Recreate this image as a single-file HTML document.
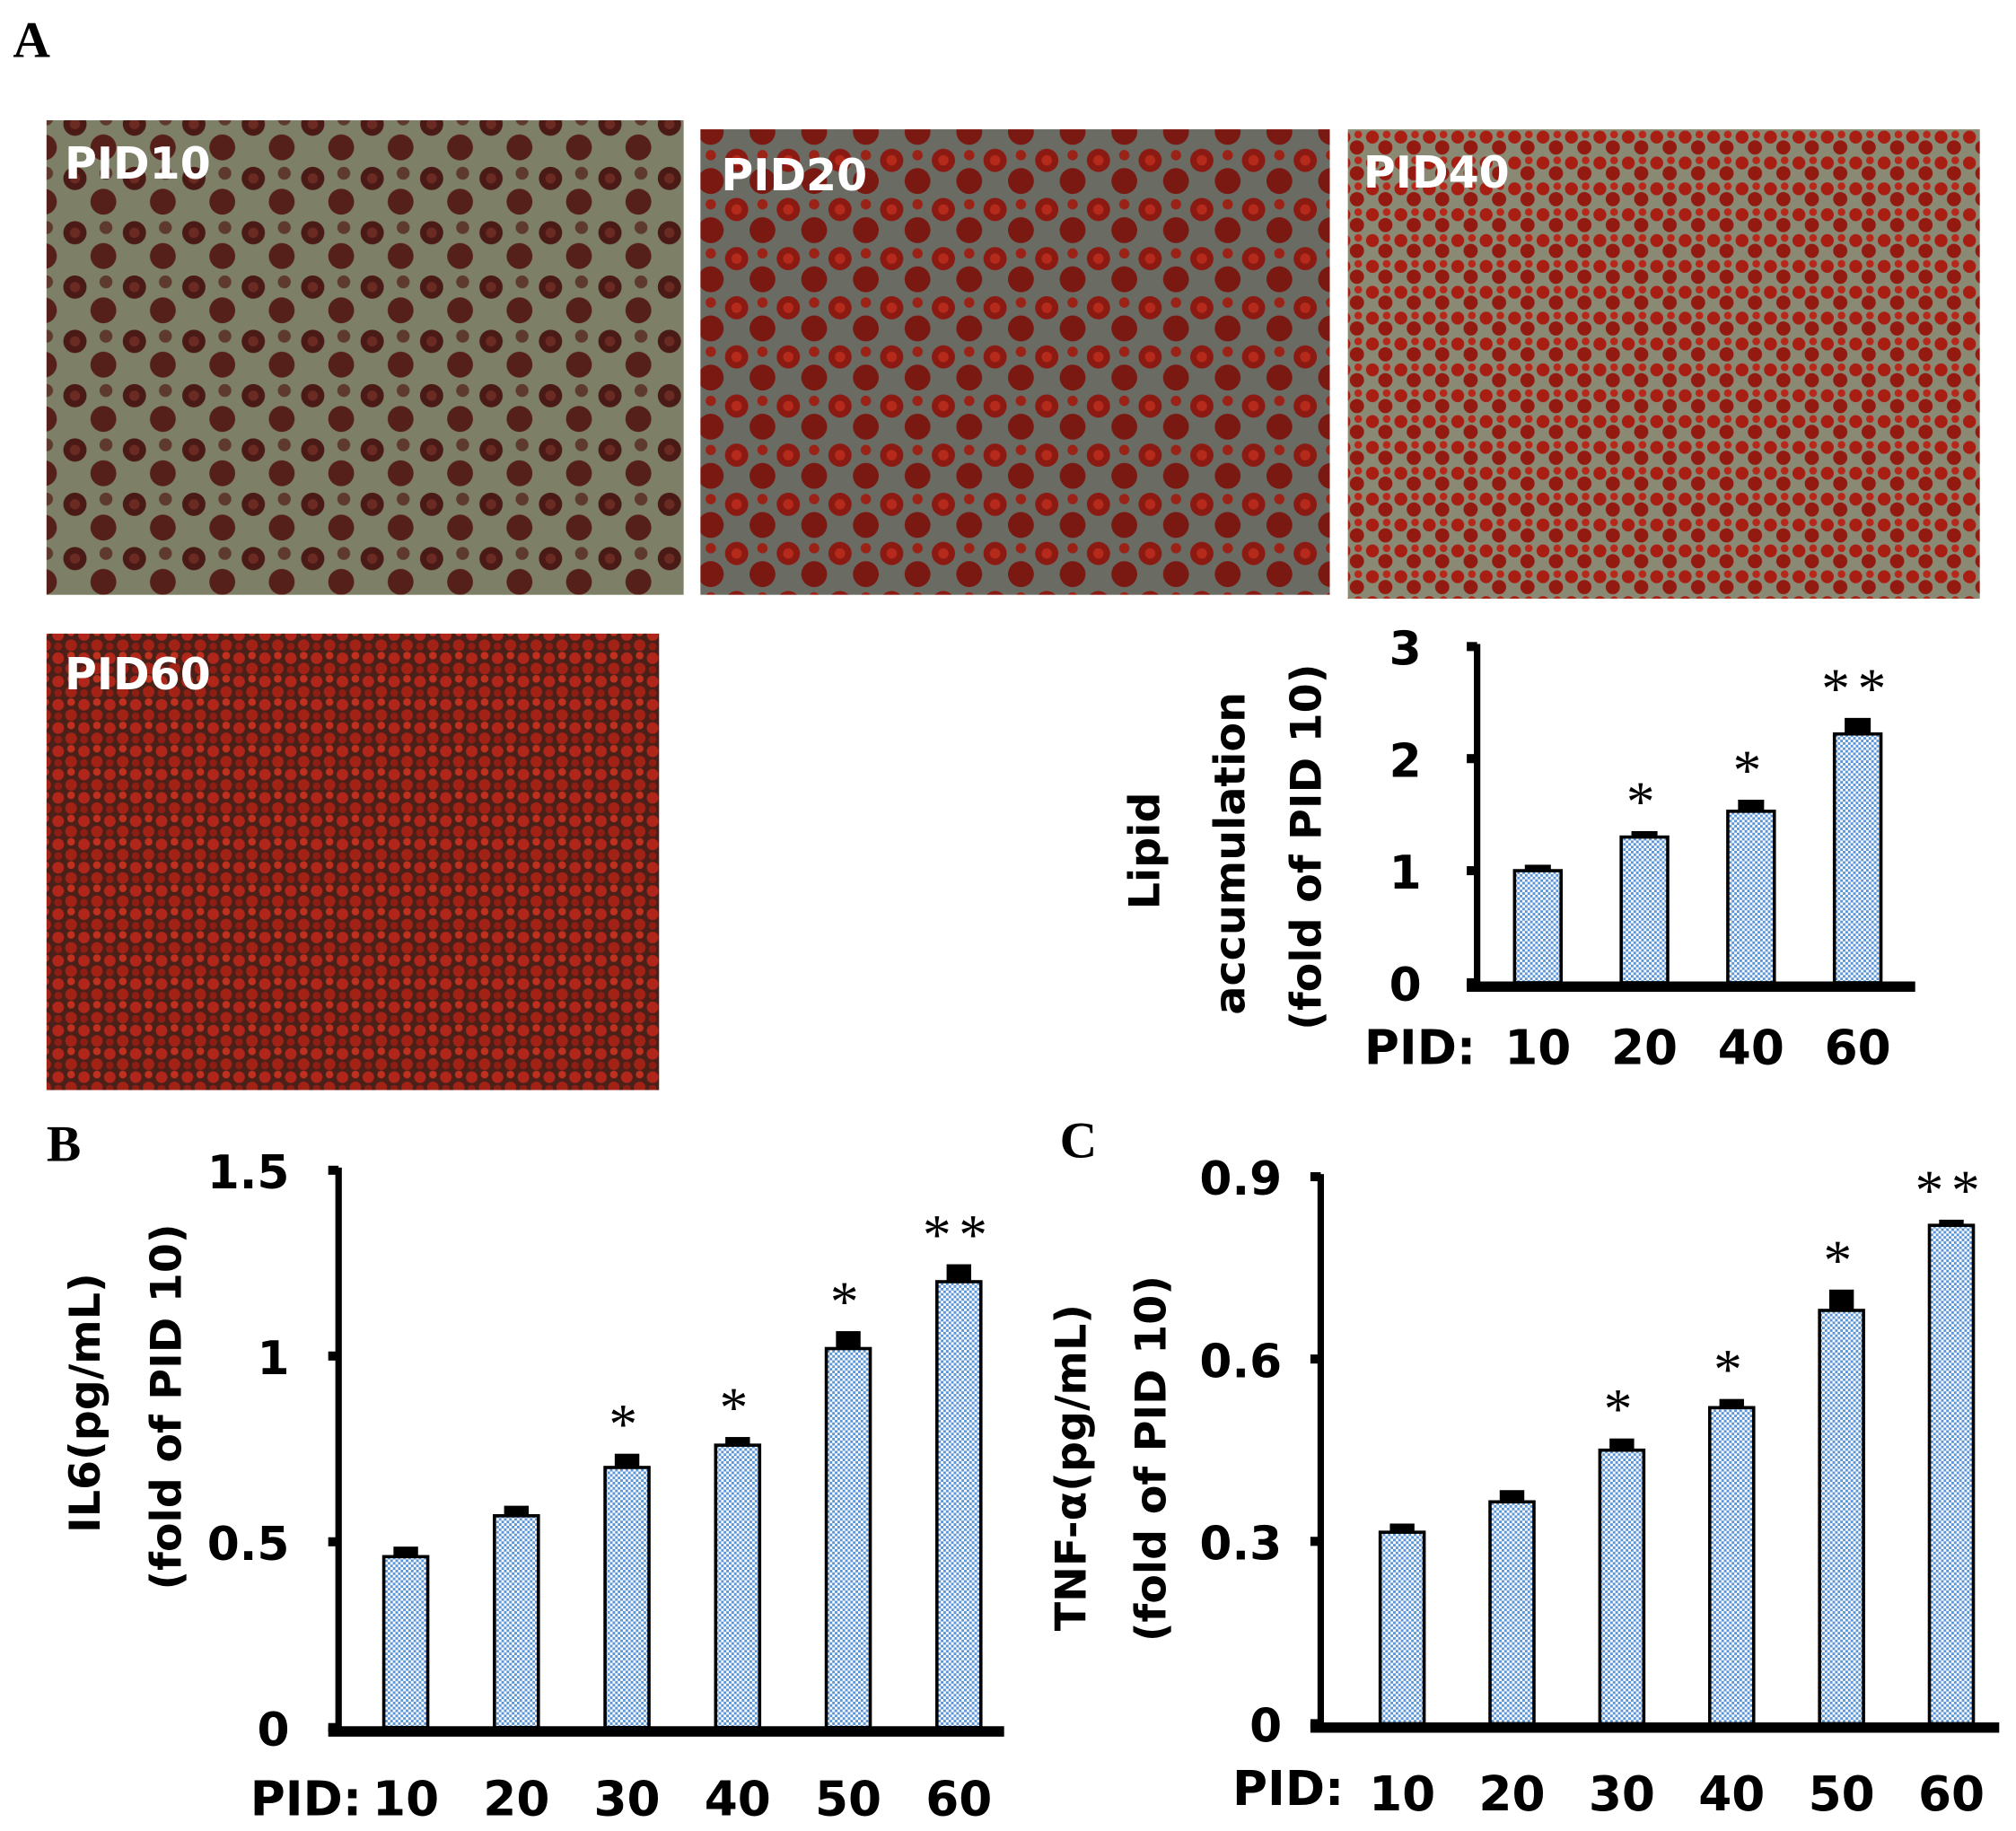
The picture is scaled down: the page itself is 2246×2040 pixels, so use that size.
<!DOCTYPE html>
<html><head><meta charset="utf-8"><style>
html,body{margin:0;padding:0;background:#fff;}
svg{display:block;}
text{font-family:"DejaVu Sans","Liberation Sans",sans-serif;font-weight:bold;fill:#000;}
.serif{font-family:"Liberation Serif",serif;}
</style></head><body>
<svg id="fig" width="2246" height="2040" viewBox="0 0 1560 1416" preserveAspectRatio="none" xmlns="http://www.w3.org/2000/svg">
<defs>
<pattern id="check" width="4" height="4" patternUnits="userSpaceOnUse">
<rect width="4" height="4" fill="#ffffff"/><rect width="2" height="2" fill="#5b95d6"/><rect x="2" y="2" width="2" height="2" fill="#5b95d6"/>
</pattern>
<pattern id="p10" width="46" height="42" patternUnits="userSpaceOnUse">
<rect width="46" height="42" fill="#7d7f66"/>
<circle cx="12" cy="12" r="9" fill="#4a1a16"/><circle cx="12" cy="12" r="4" fill="#6b2a22"/>
<circle cx="34" cy="30" r="10" fill="#55201a"/><circle cx="36" cy="8" r="5" fill="#5e3a2e"/>
</pattern>
<pattern id="p20" width="40" height="38" patternUnits="userSpaceOnUse">
<rect width="40" height="38" fill="#6a6c64"/>
<circle cx="10" cy="10" r="9" fill="#8a1a12"/><circle cx="10" cy="10" r="4" fill="#b52a1a"/>
<circle cx="30" cy="26" r="10" fill="#7a1812"/><circle cx="30" cy="6" r="4" fill="#9a2216"/>
</pattern>
<pattern id="p40" width="22" height="20" patternUnits="userSpaceOnUse">
<rect width="22" height="20" fill="#8a8a74"/>
<circle cx="6" cy="6" r="5" fill="#a81e12"/><circle cx="16" cy="14" r="5.5" fill="#931a10"/><circle cx="17" cy="4" r="3" fill="#b8281a"/>
</pattern>
<pattern id="p60" width="20" height="18" patternUnits="userSpaceOnUse">
<rect width="20" height="18" fill="#4a2018"/>
<circle cx="5" cy="5" r="4.5" fill="#b0261a"/><circle cx="15" cy="13" r="4.5" fill="#a22216"/><circle cx="15" cy="3" r="3" fill="#c0301e"/><circle cx="5" cy="14" r="3" fill="#8e1e14"/>
</pattern>
</defs>

<text class="serif" x="10" y="44" font-size="40">A</text>
<g><rect x="36" y="93" width="493" height="367" fill="url(#p10)"/><text x="50" y="138" font-size="34" style="fill:#fff">PID10</text></g>
<g><rect x="542" y="100" width="487" height="360" fill="url(#p20)"/><text x="558" y="147" font-size="34" style="fill:#fff">PID20</text></g>
<g><rect x="1043" y="100" width="489" height="363" fill="url(#p40)"/><text x="1055" y="145" font-size="34" style="fill:#fff">PID40</text></g>
<g><rect x="36" y="490" width="474" height="353" fill="url(#p60)"/><text x="50" y="533" font-size="34" style="fill:#fff">PID60</text></g>

<text class="serif" x="36" y="898" font-size="40">B</text>
<text class="serif" x="820" y="895" font-size="40">C</text>
<g id="charts"></g>
</svg>
<script>
// Chart A: lipid accumulation
const lipidCats = ["10","20","40","60"];
const lipidVals = [1.0, 1.3, 1.53, 2.22];
const lipidErr = [0.03, 0.03, 0.08, 0.12];
const lipidSig = ["", "*", "*", "**"];
const lipidTicks = [0,1,2,3];
// Chart B: IL6
const il6Cats = ["10","20","30","40","50","60"];
const il6Vals = [0.46, 0.57, 0.70, 0.76, 1.02, 1.20];
const il6Err = [0.02, 0.02, 0.03, 0.015, 0.04, 0.04];
const il6Sig = ["", "", "*", "*", "*", "**"];
const il6Ticks = ["0","0.5","1","1.5"];
// Chart C: TNF-alpha
const tnfCats = ["10","20","30","40","50","60"];
const tnfVals = [0.315, 0.365, 0.45, 0.52, 0.68, 0.82];
const tnfErr = [0.01, 0.015, 0.015, 0.01, 0.03, 0.005];
const tnfSig = ["", "", "*", "*", "*", "**"];
const tnfTicks = ["0","0.3","0.6","0.9"];

const NS = "http://www.w3.org/2000/svg";
const root = document.getElementById('charts');
function mk(tag, attrs, parent){const e=document.createElementNS(NS,tag);for(const k in attrs)e.setAttribute(k,attrs[k]);(parent||root).appendChild(e);return e;}

function chart(o){
  const g = mk('g',{});
  
  
  const ymax = o.ymax;
  const y = v => o.y0 - (v/ymax)*(o.y0-o.y1);
  const x = i => o.xFirst + i*o.step;
  const ya = mk('line',{x1:o.ax,y1:o.y1-2,x2:o.ax,y2:o.y0,stroke:'#000','stroke-width':5},g);
  
  
  const xa = mk('line',{x1:o.ax-8,y1:o.y0+3,x2:o.xEnd,y2:o.y0+3,stroke:'#000','stroke-width':8},g);
  
  
  o.ticks.forEach(t=>{
    const v=parseFloat(t), ty=y(v);
    const tk = mk('line',{x1:o.ax-8,y1:ty,x2:o.ax,y2:ty,stroke:'#000','stroke-width':7},g);
    
    
    const tl = mk('text',{x:o.tickX,y:ty+14,'font-size':o.fs,'text-anchor':'end'},g);
    tl.textContent = String(t);
    
    
  });
  o.vals.forEach((v,i)=>{
    const cx=x(i), top=y(v), w=o.bw;
    const eb = mk('rect',{x:cx-w*0.28,y:y(v+o.err[i])-2,width:w*0.56,height:top-y(v+o.err[i])+4,fill:'#000'},g);
    
    
    const b = mk('rect',{x:cx-w/2,y:top,width:w,height:o.y0-top,fill:'url(#check)',stroke:'#000','stroke-width':2.5},g);
    
    
    if(o.sig[i]){
      const s = mk('text',{x:cx,y:y(v+o.err[i])-10,'font-size':44,'text-anchor':'middle','letter-spacing':6,style:'font-weight:normal;font-family:"Liberation Serif",serif'},g);
      s.textContent = o.sig[i];
      
      
    }
    const xl = mk('text',{x:cx,y:o.xlY,'font-size':o.xfs,'text-anchor':'middle'},g);
    xl.textContent = o.cats[i];
    
    
  });
  const pl = mk('text',{x:o.pidX,y:o.pidY,'font-size':o.xfs,'text-anchor':'end'},g);
  pl.textContent = 'PID:';
  
  
  o.titles.forEach(tt=>{
    const t = mk('text',{x:0,y:0,'font-size':o.tfs,'text-anchor':'middle',transform:`translate(${tt[0]},${tt[1]}) rotate(-90)`},g);
    t.textContent = tt[2];
    
    
  });
}

chart({name:'lipid-chart', cats:lipidCats, vals:lipidVals, err:lipidErr, sig:lipidSig, ticks:lipidTicks, ymax:3,
  ax:1143, y0:760, y1:500, xFirst:1190, step:82.5, bw:36, xEnd:1482, tickX:1100, fs:36, xfs:37, xlY:823, pidX:1142, pidY:823,
  tfs:33, titles:[[897,658,'Lipid'],[963,660,'accumulation'],[1022,655,'(fold of  PID 10)']]});
chart({name:'il6-chart', cats:il6Cats, vals:il6Vals, err:il6Err, sig:il6Sig, ticks:il6Ticks, ymax:1.5,
  ax:262, y0:1336, y1:905, xFirst:314, step:85.6, bw:34, xEnd:777, tickX:224, fs:36, xfs:37, xlY:1404, pidX:280, pidY:1404,
  tfs:33, titles:[[77,1085,'IL6(pg/mL)'],[140,1088,'(fold of PID 10)']]});
chart({name:'tnf-chart', cats:tnfCats, vals:tnfVals, err:tnfErr, sig:tnfSig, ticks:tnfTicks, ymax:0.9,
  ax:1022, y0:1333, y1:910, xFirst:1085, step:85, bw:34, xEnd:1547, tickX:992, fs:36, xfs:37, xlY:1400, pidX:1040, pidY:1396,
  tfs:33, titles:[[840,1135,'TNF-α(pg/mL)'],[902,1128,'(fold of PID 10)']]});
</script>
</body></html>
